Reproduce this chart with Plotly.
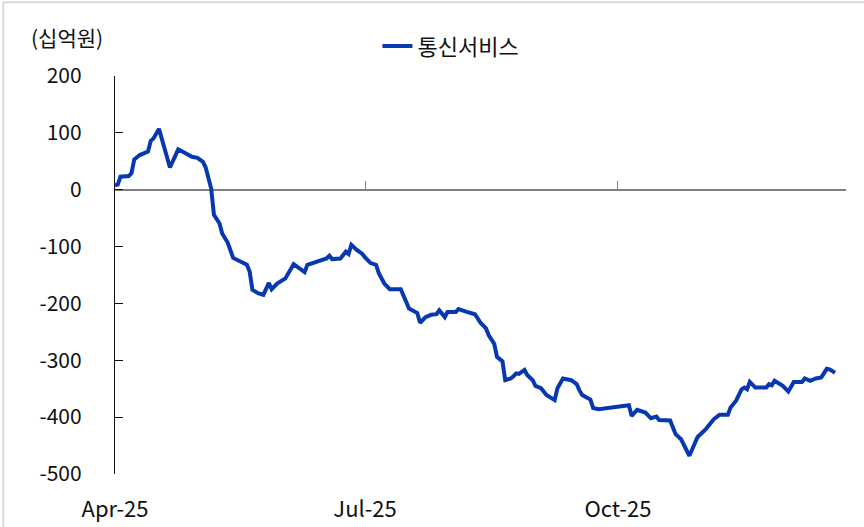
import plotly.graph_objects as go

# 통신서비스 누적 순매수 (십억원)
dates = [
    "2025-04-01", "2025-04-02", "2025-04-03", "2025-04-06", "2025-04-07", "2025-04-08", "2025-04-10",
    "2025-04-12", "2025-04-13", "2025-04-14", "2025-04-15", "2025-04-17", "2025-04-19", "2025-04-21",
    "2025-04-24", "2025-04-28", "2025-04-29", "2025-05-01", "2025-05-03", "2025-05-04", "2025-05-06",
    "2025-05-07", "2025-05-09", "2025-05-10", "2025-05-12", "2025-05-14", "2025-05-16", "2025-05-19",
    "2025-05-20", "2025-05-21", "2025-05-23", "2025-05-25", "2025-05-27", "2025-05-28", "2025-05-30",
    "2025-06-02", "2025-06-05", "2025-06-06", "2025-06-09", "2025-06-10", "2025-06-13", "2025-06-15",
    "2025-06-17", "2025-06-18", "2025-06-19", "2025-06-22", "2025-06-23", "2025-06-24", "2025-06-25",
    "2025-06-26", "2025-06-28", "2025-06-30", "2025-07-01", "2025-07-03", "2025-07-05", "2025-07-06",
    "2025-07-08", "2025-07-10", "2025-07-14", "2025-07-16", "2025-07-17", "2025-07-20", "2025-07-21",
    "2025-07-23", "2025-07-25", "2025-07-27", "2025-07-28", "2025-07-30", "2025-07-31", "2025-08-03",
    "2025-08-04", "2025-08-07", "2025-08-10", "2025-08-12", "2025-08-14", "2025-08-15", "2025-08-17",
    "2025-08-18", "2025-08-20", "2025-08-21", "2025-08-23", "2025-08-24", "2025-08-25", "2025-08-26",
    "2025-08-28", "2025-08-29", "2025-08-31", "2025-09-01", "2025-09-03", "2025-09-05", "2025-09-08",
    "2025-09-09", "2025-09-11", "2025-09-14", "2025-09-16", "2025-09-17", "2025-09-18", "2025-09-21",
    "2025-09-22", "2025-09-24", "2025-10-01", "2025-10-05", "2025-10-06", "2025-10-08", "2025-10-11",
    "2025-10-12", "2025-10-13", "2025-10-15", "2025-10-16", "2025-10-20", "2025-10-22", "2025-10-24",
    "2025-10-27", "2025-10-30", "2025-11-02", "2025-11-04", "2025-11-05", "2025-11-07", "2025-11-10",
    "2025-11-11", "2025-11-12", "2025-11-13", "2025-11-15", "2025-11-16", "2025-11-17", "2025-11-18",
    "2025-11-20", "2025-11-24", "2025-11-25", "2025-11-26", "2025-11-27", "2025-11-28", "2025-11-30",
    "2025-12-02", "2025-12-04", "2025-12-07", "2025-12-08", "2025-12-10", "2025-12-12", "2025-12-14",
    "2025-12-16", "2025-12-17", "2025-12-19",
]
telecom = [
    8, 9, 23, 24, 29, 53, 61, 65, 67, 86,
    90, 107, 73, 39, 71, 61, 58, 56, 49, 39,
    2, -44, -59, -77, -93, -120, -125, -132, -144, -176,
    -182, -185, -164, -175, -165, -156, -131, -134, -145, -132,
    -128, -125, -121, -116, -122, -121, -115, -109, -113, -97,
    -106, -113, -119, -129, -132, -147, -165, -175, -175, -197,
    -209, -217, -234, -224, -220, -219, -212, -224, -215, -215,
    -210, -215, -219, -234, -244, -256, -271, -294, -302, -335,
    -332, -328, -323, -324, -317, -326, -335, -345, -349, -361,
    -370, -349, -332, -335, -342, -353, -361, -369, -384, -386,
    -381, -379, -398, -387, -392, -396, -402, -399, -405, -406,
    -430, -439, -468, -435, -421, -409, -403, -396, -396, -383,
    -376, -371, -351, -348, -351, -338, -348, -348, -342, -344,
    -336, -339, -345, -355, -338, -338, -332, -336, -332, -330,
    -315, -316, -322,
]

series_name = "통신서비스"
unit_label = "(십억원)"
x_tick_dates = ["2025-04-01", "2025-07-01", "2025-10-01"]
x_tick_text = ["Apr-25", "Jul-25", "Oct-25"]
y_ticks = [200, 100, 0, -100, -200, -300, -400, -500]
y_tick_text = ["200", "100", "0", "-100", "-200", "-300", "-400", "-500"]

x_range = ["2025-04-01", "2025-12-23"]
y_range = [-500, 200]

FONT = "Noto Sans CJK KR"
BLUE = "#0838B0"
INK = "#111111"

fig = go.Figure()

fig.add_trace(go.Scatter(
    x=dates, y=telecom, mode="lines", name=series_name,
    line=dict(color=BLUE, width=4), xaxis="x", yaxis="y",
))
# invisible copy that carries the axis drawn through zero
fig.add_trace(go.Scatter(
    x=dates, y=telecom, mode="lines", showlegend=False, hoverinfo="skip",
    line=dict(color="rgba(0,0,0,0)", width=0), xaxis="x2", yaxis="y",
))

y0_frac = (0 - y_range[0]) / (y_range[1] - y_range[0])

fig.update_layout(
    width=864, height=527,
    margin=dict(l=115, r=18, t=76, b=53),
    paper_bgcolor="white", plot_bgcolor="white",
    font=dict(family=FONT, size=21, color=INK),
    showlegend=True,
    legend=dict(
        x=0.359, y=1.075, xanchor="left", yanchor="middle",
        orientation="h", bgcolor="rgba(0,0,0,0)",
        font=dict(family=FONT, size=22, color=INK),
    ),
    xaxis=dict(
        type="date", range=x_range, automargin=False,
        tickvals=x_tick_dates, ticktext=x_tick_text,
        showline=False, showgrid=False, zeroline=False, ticks="",
        ticklabelstandoff=20,
        tickfont=dict(family=FONT, size=22, color=INK),
    ),
    xaxis2=dict(
        type="date", range=x_range, overlaying="x", automargin=False,
        anchor="free", position=y0_frac,
        tickvals=x_tick_dates[1:], showticklabels=False,
        showline=True, linecolor="#7F7F7F", linewidth=1.6,
        ticks="inside", ticklen=8, tickcolor="#7F7F7F", tickwidth=1.2,
        showgrid=False, zeroline=False, layer="below traces",
    ),
    yaxis=dict(
        range=y_range, tickvals=y_ticks, ticktext=y_tick_text, automargin=False,
        showline=True, linecolor=INK, linewidth=1.2,
        ticks="inside", ticklen=8, tickcolor=INK, tickwidth=1,
        showgrid=False, zeroline=False,
        ticklabelstandoff=28,
        tickfont=dict(family=FONT, size=21, color=INK),
    ),
    annotations=[dict(
        text=unit_label, xref="paper", yref="paper",
        x=-0.0657, y=1.098, xanchor="center", yanchor="middle",
        showarrow=False, font=dict(family=FONT, size=21, color=INK),
    )],
    shapes=[
        dict(type="line", xref="paper", yref="paper",
             x0=-0.153, x1=1.03, y0=1.185, y1=1.185,
             line=dict(color="#D9D9D9", width=2)),
        dict(type="line", xref="paper", yref="paper",
             x0=-0.153, x1=-0.153, y0=1.185, y1=-0.14,
             line=dict(color="#D9D9D9", width=2)),
    ],
)

fig.write_html("out.html", config={"displayModeBar": False})
